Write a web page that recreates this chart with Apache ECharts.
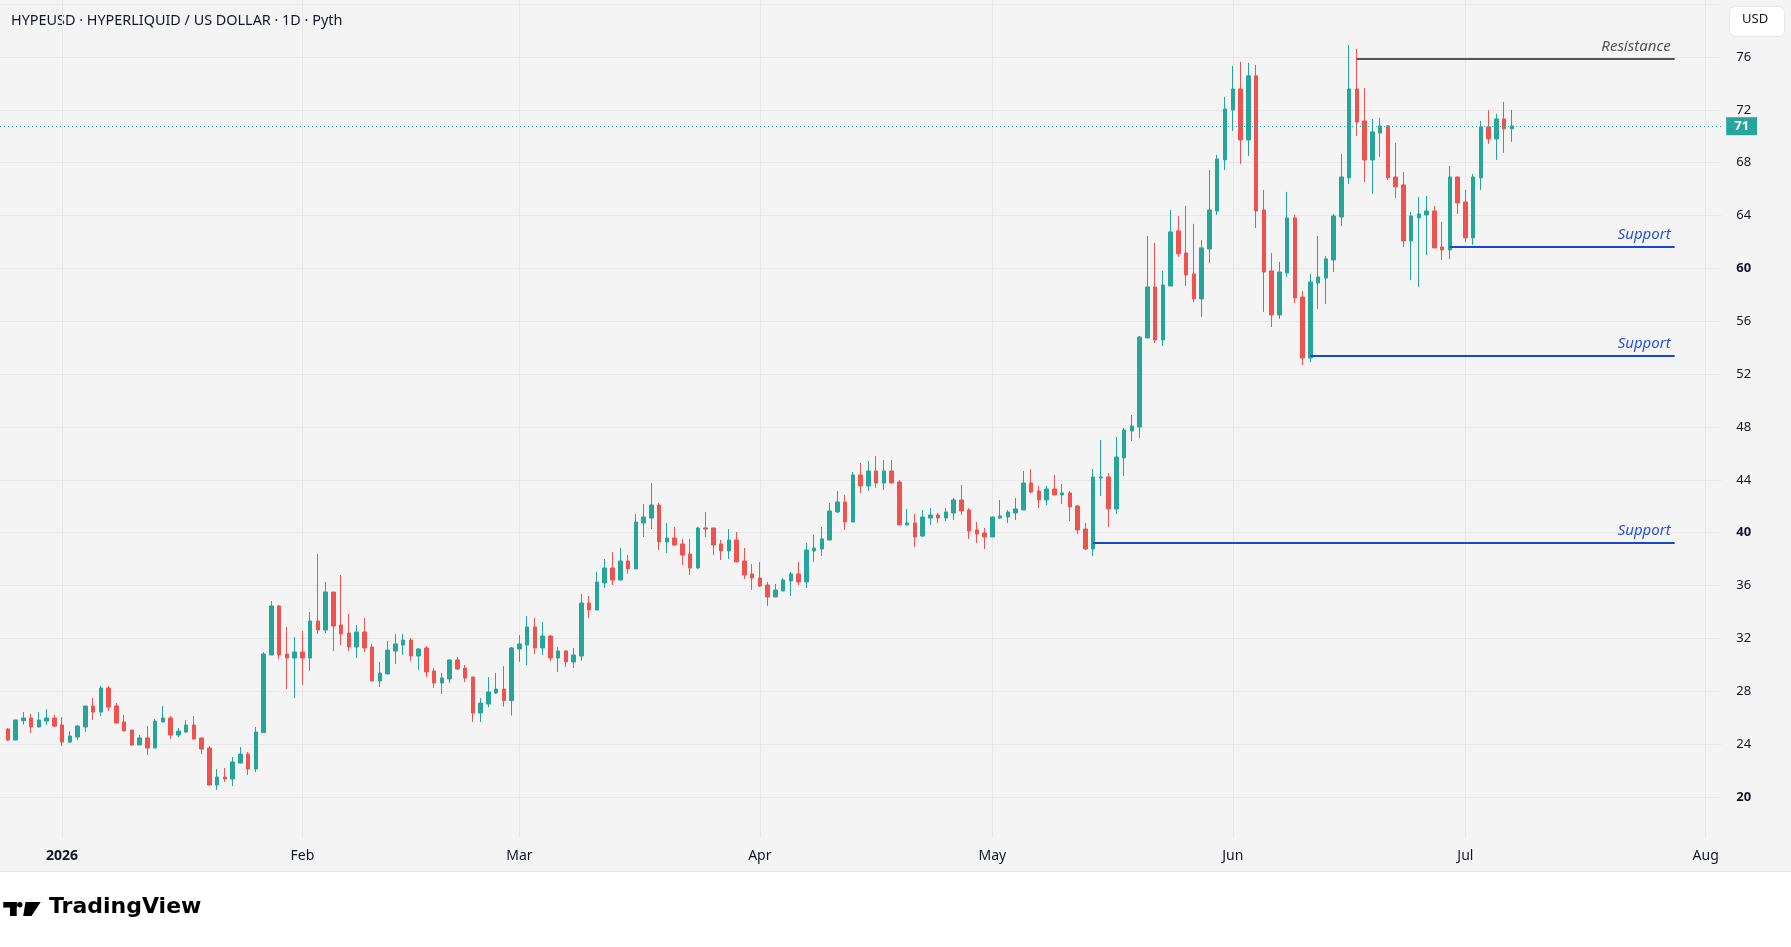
<!DOCTYPE html>
<html>
<head>
<meta charset="utf-8">
<title>HYPEUSD 1D</title>
<script src="https://cdn.jsdelivr.net/npm/echarts@6.0.0/dist/echarts.min.js"></script>
<style>
  html, body { margin: 0; padding: 0; }
  body { width: 1791px; height: 947px; background: #ffffff; position: relative; overflow: hidden; }
  #pane { position: absolute; left: 0; top: 0; width: 1791px; height: 872px; background: #f4f4f4; border-bottom: 1px solid #e6e6e6; box-sizing: border-box; }
  #main { position: absolute; left: 0; top: 0; width: 1791px; height: 947px; }
</style>
</head>
<body>
<div id="pane"></div>
<div id="main"></div>
<script>
// daily candles, first one is 2025-12-25
var firstDay = '2025-12-25';
var opens = [
  25.15, 24.31, 25.78, 25.98, 25.30, 25.75, 25.98, 25.45, 24.16, 24.54,
  25.30, 26.89, 26.43, 28.25, 26.89, 25.68, 25.07, 23.94, 24.47, 23.71,
  25.68, 25.98, 24.69, 24.92, 25.45, 24.47, 23.71, 20.91, 21.51, 21.36,
  22.57, 23.25, 22.12, 24.87, 30.75, 34.46, 30.82, 30.52, 30.97, 30.52,
  33.32, 32.64, 35.51, 33.02, 32.41, 31.35, 32.49, 31.35, 28.78, 29.31,
  31.05, 31.50, 31.88, 30.67, 31.28, 29.54, 28.63, 28.93, 30.37, 29.76,
  29.08, 26.36, 27.04, 27.87, 28.17, 27.29, 31.20, 31.50, 32.87, 31.28,
  32.18, 30.52, 31.05, 30.22, 30.67, 34.68, 34.15, 36.20, 37.33, 36.42,
  37.86, 37.26, 40.74, 41.11, 42.10, 39.30, 39.60, 39.15, 38.39, 37.33,
  40.36, 40.36, 39.15, 38.62, 39.45, 37.86, 36.88, 36.57, 36.04, 35.14,
  35.59, 36.35, 36.88, 36.27, 38.62, 38.77, 39.45, 41.57, 42.33, 40.81,
  44.37, 43.54, 44.67, 43.76, 44.67, 43.84, 40.59, 40.74, 39.75, 41.11,
  41.34, 41.11, 41.49, 42.48, 41.72, 40.21, 39.98, 39.68, 41.11, 41.19,
  41.49, 41.72, 43.76, 43.16, 42.48, 43.31, 42.86, 43.01, 42.02, 40.28,
  38.77, 44.14, 44.22, 41.80, 45.66, 47.70, 48.00, 54.74, 58.60, 54.59,
  58.67, 62.84, 61.17, 59.58, 57.69, 61.47, 64.35, 68.21, 71.99, 73.58,
  69.72, 74.57, 64.42, 59.81, 56.48, 59.66, 63.82, 57.84, 53.22, 58.90,
  59.27, 60.64, 63.89, 66.85, 73.58, 71.16, 68.21, 70.25, 70.78, 66.92,
  66.32, 62.08, 63.82, 64.05, 64.35, 61.62, 61.40, 66.92, 65.03, 62.31,
  66.85, 70.71, 69.80, 71.31, 70.56
];
var closes = [
  24.31, 25.83, 25.98, 25.30, 25.83, 25.98, 25.37, 24.16, 24.62, 25.37,
  26.89, 26.43, 28.25, 26.81, 25.60, 25.00, 23.94, 24.47, 23.71, 25.75,
  25.98, 24.69, 24.99, 25.45, 24.39, 23.63, 20.91, 21.51, 21.36, 22.65,
  23.25, 22.12, 24.92, 30.82, 34.46, 30.75, 30.52, 30.97, 30.52, 33.32,
  32.64, 35.51, 32.94, 32.34, 31.35, 32.49, 31.28, 28.78, 29.38, 31.12,
  31.58, 31.88, 30.67, 31.20, 29.46, 28.63, 29.01, 30.37, 29.69, 29.01,
  26.36, 27.11, 27.95, 28.17, 27.29, 31.28, 31.58, 32.87, 31.28, 32.18,
  30.52, 31.05, 30.22, 30.75, 34.68, 34.15, 36.27, 37.33, 36.42, 37.86,
  37.26, 40.81, 41.19, 42.10, 39.30, 39.60, 39.07, 38.31, 37.33, 40.36,
  40.28, 39.07, 38.62, 39.45, 37.79, 36.80, 36.57, 35.97, 35.14, 35.67,
  36.42, 36.88, 36.27, 38.69, 38.84, 39.53, 41.64, 42.33, 40.81, 44.37,
  43.54, 44.67, 43.76, 44.67, 43.76, 40.59, 40.74, 39.68, 41.19, 41.34,
  41.11, 41.57, 42.48, 41.64, 40.13, 39.90, 39.68, 41.19, 41.27, 41.57,
  41.80, 43.76, 43.08, 42.48, 43.31, 42.86, 43.01, 41.95, 40.21, 38.77,
  44.22, 44.22, 41.80, 45.73, 47.78, 48.08, 54.81, 58.60, 54.59, 58.75,
  62.76, 61.10, 59.51, 57.69, 61.55, 64.42, 68.28, 72.07, 73.58, 69.72,
  74.57, 64.35, 59.73, 56.48, 59.73, 63.82, 57.76, 53.22, 58.97, 59.35,
  60.72, 63.97, 66.92, 73.58, 71.08, 68.21, 70.33, 70.78, 66.85, 66.17,
  62.08, 63.97, 64.12, 64.35, 61.55, 61.40, 66.92, 64.95, 62.31, 66.92,
  70.71, 69.80, 71.31, 70.56, 70.78
];
var lows = [
  24.24, 24.30, 25.47, 24.84, 25.28, 25.45, 25.30, 23.86, 24.09, 24.31,
  24.92, 25.83, 26.13, 26.51, 25.58, 24.99, 23.86, 23.93, 23.18, 23.70,
  25.67, 24.39, 24.54, 24.84, 24.38, 23.25, 20.90, 20.53, 21.14, 20.83,
  22.56, 21.66, 21.89, 24.86, 30.74, 30.44, 28.17, 27.49, 28.48, 29.54,
  32.34, 32.41, 31.05, 31.50, 31.05, 30.52, 30.97, 28.77, 28.32, 29.30,
  30.07, 30.75, 30.29, 29.61, 29.08, 28.25, 27.80, 28.63, 29.61, 28.70,
  25.68, 25.68, 26.81, 27.80, 26.84, 26.16, 30.22, 29.99, 30.82, 30.75,
  30.29, 29.46, 29.84, 29.76, 30.29, 33.55, 34.14, 35.82, 36.04, 36.41,
  36.88, 37.25, 39.68, 40.28, 38.69, 38.47, 39.00, 37.56, 36.80, 37.26,
  39.68, 38.31, 37.94, 38.01, 37.78, 36.50, 35.67, 35.89, 34.46, 35.13,
  35.58, 35.21, 36.04, 35.82, 37.79, 38.24, 39.44, 41.49, 40.21, 40.80,
  43.00, 43.16, 43.39, 43.23, 43.75, 40.58, 40.58, 38.92, 39.68, 40.59,
  40.74, 40.89, 40.96, 41.34, 39.53, 39.22, 38.77, 39.67, 41.04, 40.74,
  40.96, 41.71, 43.00, 41.87, 42.10, 42.85, 42.17, 40.89, 39.90, 38.69,
  38.24, 42.78, 40.43, 41.42, 44.29, 46.94, 47.17, 54.73, 54.36, 54.13,
  58.66, 60.87, 58.67, 57.46, 56.33, 60.41, 64.05, 67.45, 70.40, 67.91,
  68.51, 63.06, 56.71, 55.57, 56.18, 59.35, 57.39, 52.69, 52.92, 56.93,
  57.31, 59.73, 63.21, 66.39, 70.02, 66.54, 65.64, 68.44, 66.69, 65.33,
  61.62, 59.11, 58.60, 61.02, 61.54, 60.64, 60.72, 64.12, 62.00, 61.78,
  65.94, 69.42, 68.21, 68.74, 69.57
];
var highs = [
  25.22, 25.85, 26.43, 26.28, 26.43, 26.66, 26.21, 26.05, 24.99, 25.45,
  26.90, 27.49, 28.40, 28.40, 27.11, 26.21, 25.08, 24.69, 25.37, 25.90,
  26.89, 26.13, 25.22, 25.83, 26.13, 24.48, 23.86, 22.12, 22.19, 23.03,
  23.78, 23.41, 25.30, 30.97, 34.83, 34.53, 32.87, 32.11, 32.56, 34.00,
  38.39, 36.27, 35.52, 36.80, 33.85, 33.02, 33.55, 31.58, 30.22, 31.81,
  32.34, 32.34, 32.03, 31.28, 31.43, 29.76, 29.38, 30.44, 30.60, 29.99,
  29.09, 27.49, 29.08, 29.38, 29.91, 31.35, 32.26, 33.70, 33.55, 33.24,
  32.26, 31.35, 31.13, 31.28, 35.36, 35.21, 37.03, 38.01, 38.54, 38.84,
  38.31, 41.42, 42.17, 43.76, 42.25, 40.74, 40.43, 39.53, 39.53, 40.43,
  41.57, 40.37, 39.45, 40.28, 40.06, 38.84, 37.63, 37.79, 36.27, 36.12,
  36.57, 37.03, 37.79, 39.22, 39.83, 40.43, 42.25, 43.16, 42.86, 44.60,
  45.28, 45.43, 45.81, 45.50, 45.50, 43.99, 41.80, 41.42, 41.72, 41.87,
  41.49, 41.87, 42.63, 43.61, 41.87, 40.81, 40.36, 41.20, 42.48, 41.72,
  42.63, 44.67, 44.82, 43.54, 43.54, 44.37, 43.69, 43.16, 42.10, 40.74,
  44.82, 47.02, 44.52, 47.25, 47.93, 48.91, 54.89, 62.46, 61.93, 59.81,
  64.42, 63.97, 64.73, 63.37, 62.15, 67.45, 68.59, 72.98, 75.32, 75.63,
  75.55, 75.40, 65.94, 61.17, 60.49, 65.79, 64.05, 58.29, 59.58, 62.46,
  60.94, 64.12, 68.66, 76.91, 76.61, 73.66, 71.31, 71.39, 70.86, 69.50,
  67.30, 64.27, 65.41, 65.48, 64.73, 63.52, 67.75, 66.93, 65.94, 67.15,
  71.16, 71.99, 71.69, 72.60, 71.99
];

// month ticks on the time axis
var tickDays = ['2026-01-01', '2026-02-01', '2026-03-01', '2026-04-01', '2026-05-01', '2026-06-01', '2026-07-01', '2026-08-01'];
var tickNames = ['2026', 'Feb', 'Mar', 'Apr', 'May', 'Jun', 'Jul', 'Aug'];
var priceTicks = [20, 24, 28, 32, 36, 40, 44, 48, 52, 56, 60, 64, 68, 72, 76];
var gridTicks = [20, 24, 28, 32, 36, 40, 44, 48, 52, 56, 60, 64, 68, 72, 76, 80];

// drawn levels
var levelNames = ['Resistance', 'Support', 'Support', 'Support'];
var levelValues = [75.88, 61.65, 53.40, 39.25];
var levelStarts = ['2026-06-17', '2026-06-29', '2026-06-11', '2026-05-14'];
var levelEnd = '2026-07-28';
var lastPrice = 70.76;

var UP = '#26a69a', DOWN = '#ef5350', TXT = '#131722', GRID = '#e8e8e8';
var FONT = '"Noto Sans", Roboto, sans-serif';

function isoDay(t) { return new Date(t).toISOString().slice(0, 10); }

// axis days: one spare day before the first candle, through early August
var days = [];
var t0 = Date.parse('2025-12-24T00:00:00Z');
for (var i = 0; i < 223; i++) days.push(isoDay(t0 + i * 86400000));
var first = days.indexOf(firstDay);
var candles = days.map(function (d, i) {
    var j = i - first;
    if (j < 0 || j >= opens.length) return '-';
    return [opens[j], closes[j], lows[j], highs[j]];
});

function isMonthStart(idx, val) { return tickDays.indexOf(val) >= 0; }

var levelLines = levelValues.map(function (v, k) {
    var col = k === 0 ? '#555555' : '#1848cc';
    return [
        {
            coord: [levelStarts[k], v],
            lineStyle: { color: col, width: 2, type: 'solid' },
            label: {
                show: true, position: 'insideEndTop', formatter: levelNames[k],
                color: k === 0 ? '#555555' : '#2452d9', fontStyle: 'italic',
                fontSize: 15, fontFamily: FONT, distance: 4
            }
        },
        { coord: [levelEnd, v] }
    ];
});

var myChart = echarts.init(document.getElementById('main'), null, { renderer: 'canvas' });
var option = {
    animation: false,
    backgroundColor: 'transparent',
    textStyle: { fontFamily: FONT },
    grid: { left: -1.5, right: 69.8, top: 0, bottom: 109, containLabel: false },
    xAxis: {
        type: 'category',
        data: days,
        boundaryGap: false,
        axisLine: { show: false },
        axisTick: { show: false },
        axisLabel: {
            interval: isMonthStart,
            margin: 11,
            color: TXT,
            fontSize: 14,
            formatter: function (val) {
                var k = tickDays.indexOf(val);
                return k === 0 ? '{y|' + tickNames[0] + '}' : tickNames[k];
            },
            rich: { y: { fontWeight: 'bold', fontSize: 14, color: TXT } }
        },
        splitLine: { show: true, interval: isMonthStart, lineStyle: { color: GRID, width: 1 } }
    },
    yAxis: {
        type: 'value',
        position: 'right',
        min: 16.9,
        max: 80.31,
        axisLine: { show: false },
        axisTick: { show: false, customValues: gridTicks },
        axisLabel: {
            customValues: priceTicks,
            align: 'left',
            margin: 15,
            color: TXT,
            fontSize: 13,
            formatter: function (v) {
                return v % 20 === 0 ? '{b|' + v + '}' : String(v);
            },
            rich: { b: { fontWeight: 'bold', fontSize: 13, color: TXT } }
        },
        splitLine: { show: true, lineStyle: { color: GRID, width: 1 } }
    },
    series: [
        {
            type: 'candlestick',
            data: candles,
            barWidth: 4,
            clip: false,
            itemStyle: {
                color: UP, color0: DOWN,
                borderColor: UP, borderColor0: DOWN,
                borderWidth: 1
            },
            markLine: {
                silent: true,
                symbol: ['none', 'none'],
                data: [
                    {
                        yAxis: lastPrice,
                        lineStyle: { color: UP, width: 1, type: [1, 3] },
                        label: {
                            show: true, position: 'end', distance: 5,
                            formatter: String(Math.round(lastPrice)),
                            color: '#ffffff', backgroundColor: UP,
                            fontWeight: 'bold', fontSize: 13, fontFamily: FONT,
                            padding: [3, 8, 2, 8]
                        }
                    }
                ].concat(levelLines)
            }
        }
    ],
    graphic: [
        {
            type: 'text', left: 11, top: 14,
            style: { text: 'HYPEUSD · HYPERLIQUID / US DOLLAR · 1D · Pyth', fill: TXT, font: '14.4px ' + FONT }
        },
        {
            type: 'rect', left: 1729, top: 6,
            shape: { width: 55, height: 30, r: 6 },
            style: { fill: '#ffffff', stroke: '#e6e6e6', lineWidth: 1 }
        },
        {
            type: 'text', left: 1742, top: 13,
            style: { text: 'USD', fill: TXT, font: '13px ' + FONT }
        },
        // TradingView logo
        { type: 'rect', shape: { x: 3.3, y: 902, width: 13.4, height: 5.6 }, style: { fill: '#000000' } },
        { type: 'rect', shape: { x: 10, y: 902, width: 6.7, height: 14 }, style: { fill: '#000000' } },
        { type: 'circle', shape: { cx: 19.8, cy: 904.8, r: 2.7 }, style: { fill: '#000000' } },
        { type: 'polygon', shape: { points: [[25.5, 902], [40.7, 902], [31.5, 916], [23.2, 916]] }, style: { fill: '#000000' } },
        {
            type: 'text', left: 49, top: 896,
            style: { text: 'TradingView', fill: '#000000', font: 'bold 22px "DejaVu Sans", sans-serif' }
        }
    ]
};
myChart.setOption(option);
</script>
</body>
</html>
